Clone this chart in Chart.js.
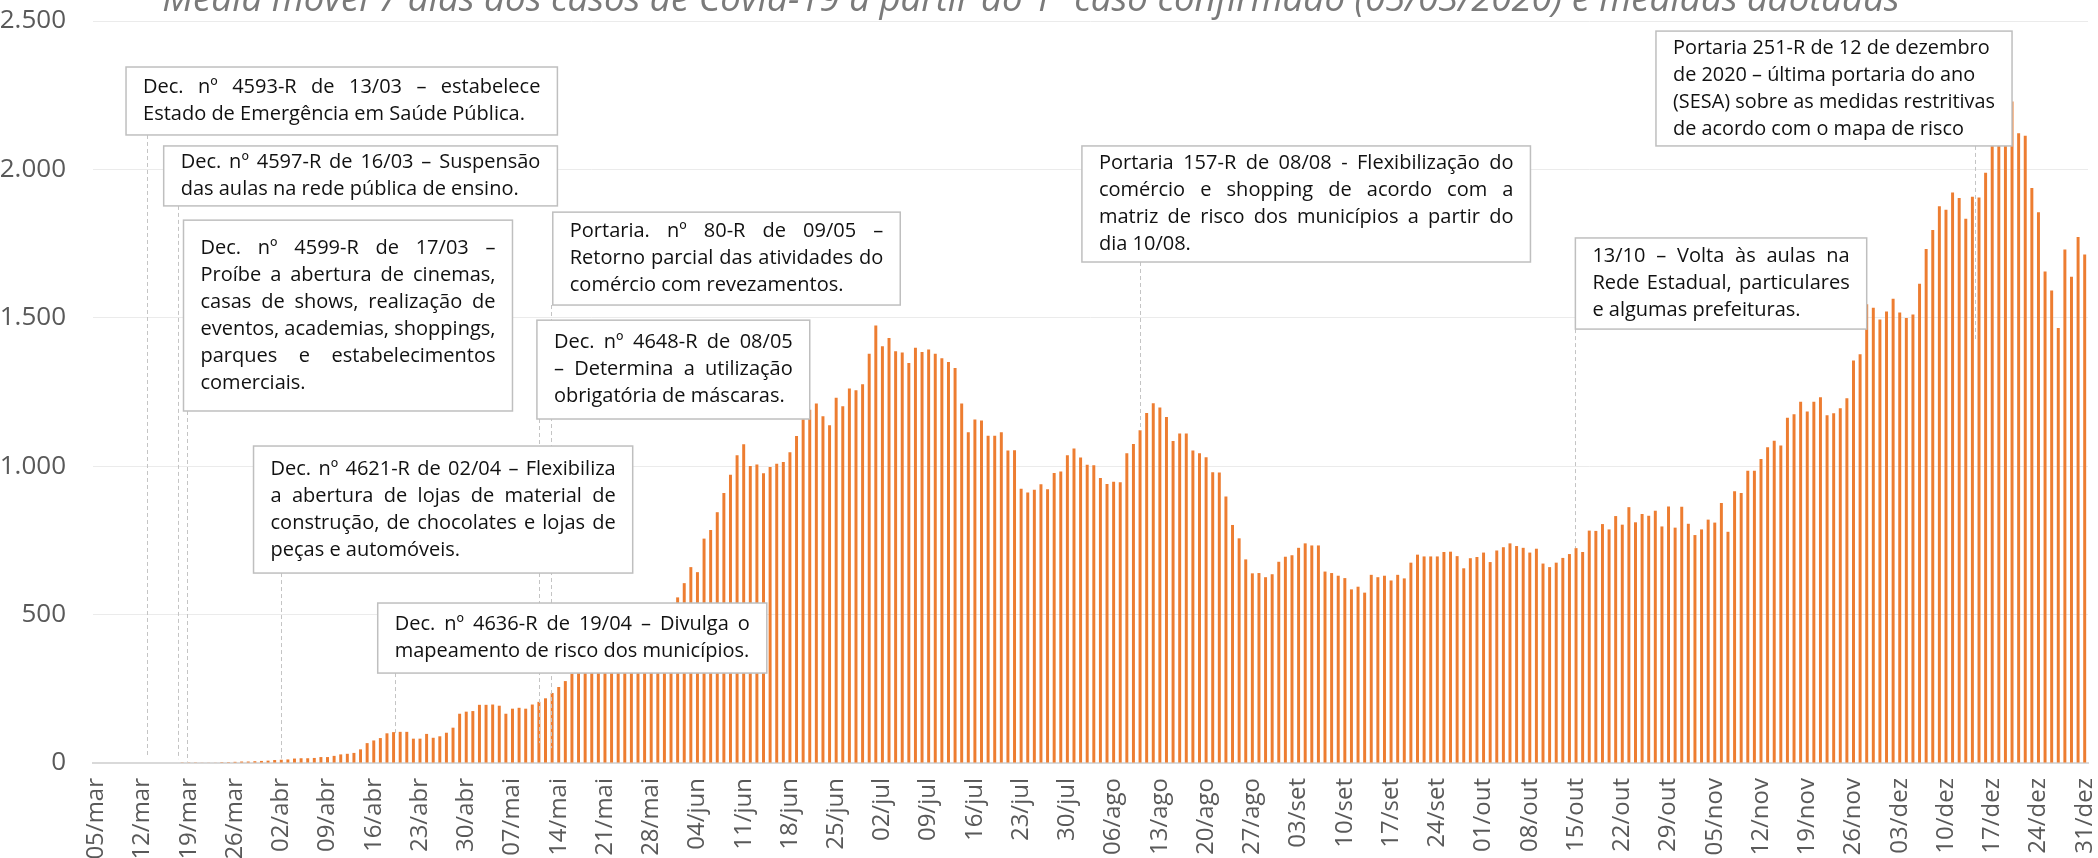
<!DOCTYPE html>
<html lang="pt-BR">
<head>
<meta charset="utf-8">
<title>Média móvel 7 dias - Covid-19</title>
<script src="https://cdn.jsdelivr.net/npm/chart.js@4.4.1/dist/chart.umd.min.js"></script>
<style>
  html, body { margin: 0; padding: 0; background: #fff; }
  #wrap { width: 2098px; height: 858px; }
</style>
</head>
<body>
<div id="wrap"><canvas id="chart" width="2098" height="858"></canvas></div>
<script>
'use strict';

// ---- dados (média móvel 7 dias) ----
const TITLE = 'Média móvel 7 dias dos casos de Covid-19 a partir do 1º caso confirmado (05/03/2020) e medidas adotadas';

const MONTHS = ['mar', 'abr', 'mai', 'jun', 'jul', 'ago', 'set', 'out', 'nov', 'dez'];
const MONTH_DAYS = [31, 30, 31, 30, 31, 31, 30, 31, 30, 31];
const FIRST_DAY = 5;
const TICK_STEP = 7;
const Y_TICKS = [0, 500, 1000, 1500, 2000, 2500];

const casesMar = [0, 0, 0, 0, 0, 0, 0, 0, 0, 0, 0, 0, 0, 1, 1, 1, 2, 2, 2, 3, 3, 4, 5, 5, 6, 7, 8];
const casesAbr = [10, 11, 12, 15, 16, 16, 17, 20, 20, 24, 29, 31, 34, 46, 67, 76, 84, 100, 104, 105,
  105, 82, 82, 98, 85, 90, 102, 119, 166, 173];
const casesMai = [175, 196, 196, 197, 193, 166, 183, 186, 183, 197, 206, 218, 236, 256, 276, 301,
  316, 334, 341, 356, 372, 378, 395, 410, 414, 432, 451, 466, 490, 508, 533];
const casesJun = [558, 606, 660, 643, 756, 785, 845, 910, 971, 1037, 1074, 1001, 1006, 976, 997,
  1008, 1014, 1047, 1102, 1158, 1190, 1211, 1168, 1138, 1231, 1202, 1262, 1256, 1276, 1379];
const casesJul = [1474, 1404, 1432, 1387, 1383, 1348, 1399, 1385, 1393, 1379, 1364, 1351, 1331, 1211,
  1114, 1157, 1154, 1103, 1103, 1114, 1053, 1054, 924, 911, 921, 939, 922, 977, 982, 1037, 1060];
const casesAgo = [1029, 1005, 1003, 960, 940, 948, 946, 1044, 1075, 1121, 1179, 1212, 1198, 1166,
  1085, 1110, 1110, 1053, 1044, 1030, 980, 979, 898, 802, 757, 686, 639, 640, 626, 636, 678];
const casesSet = [695, 700, 725, 740, 733, 733, 645, 640, 631, 623, 585, 594, 574, 634, 626, 631,
  615, 634, 622, 675, 702, 696, 696, 696, 711, 712, 697, 656, 690, 694];
const casesOut = [709, 677, 716, 727, 740, 731, 725, 709, 722, 672, 660, 675, 691, 704, 724, 711,
  783, 782, 805, 787, 832, 803, 862, 811, 839, 833, 850, 797, 864, 793, 863];
const casesNov = [806, 768, 787, 820, 810, 876, 779, 916, 910, 985, 985, 1024, 1064, 1086, 1070,
  1163, 1175, 1217, 1184, 1217, 1232, 1172, 1178, 1195, 1229, 1356, 1377, 1546, 1534, 1494];
const casesDez = [1521, 1564, 1518, 1499, 1511, 1615, 1732, 1796, 1876, 1864, 1922, 1904, 1834, 1908,
  1905, 1989, 2090, 2120, 2140, 2229, 2122, 2113, 1937, 1856, 1656, 1592, 1466, 1730, 1638, 1772, 1713];

const cases = [].concat(casesMar, casesAbr, casesMai, casesJun, casesJul,
  casesAgo, casesSet, casesOut, casesNov, casesDez);

// rótulos dd/mmm
const days = [];
MONTHS.forEach((m, k) => {
  for (let d = (k === 0 ? FIRST_DAY : 1); d <= MONTH_DAYS[k]; d++) {
    days.push(String(d).padStart(2, '0') + '/' + m);
  }
});

// ---- caixas de texto (posição em dia / valor do eixo) ----
const notes = [
  { x0: 4.5, x1: 69.8, top: 2345, bottom: 2116, justify: true,
    lines: ['Dec. nº 4593-R de 13/03 – estabelece', 'Estado de Emergência em Saúde Pública.'] },
  { x0: 10.2, x1: 69.8, top: 2079, bottom: 1877, justify: true,
    lines: ['Dec. nº 4597-R de 16/03 – Suspensão', 'das aulas na rede pública de ensino.'] },
  { x0: 13.2, x1: 63.0, top: 1829, bottom: 1186, justify: true,
    lines: ['Dec. nº 4599-R de 17/03 –', 'Proíbe a abertura de cinemas,', 'casas de shows, realização de',
      'eventos, academias, shoppings,', 'parques e estabelecimentos', 'comerciais.'] },
  { x0: 23.8, x1: 81.2, top: 1068, bottom: 640, justify: true,
    lines: ['Dec. nº 4621-R de 02/04 – Flexibiliza', 'a abertura de lojas de material de',
      'construção, de chocolates e lojas de', 'peças e automóveis.'] },
  { x0: 42.6, x1: 101.5, top: 539, bottom: 303, justify: true,
    lines: ['Dec. nº 4636-R de 19/04 – Divulga o', 'mapeamento de risco dos municípios.'] },
  { x0: 69.1, x1: 121.7, top: 1856, bottom: 1543, justify: true,
    lines: ['Portaria. nº 80-R de 09/05 –', 'Retorno parcial das atividades do', 'comércio com revezamentos.'] },
  { x0: 66.7, x1: 108.0, top: 1492, bottom: 1159, justify: true,
    lines: ['Dec. nº 4648-R de 08/05', '– Determina a utilização', 'obrigatória de máscaras.'] },
  { x0: 149.2, x1: 217.1, top: 2079, bottom: 1688, justify: true,
    lines: ['Portaria 157-R de 08/08 - Flexibilização do', 'comércio e shopping de acordo com a',
      'matriz de risco dos municípios a partir do', 'dia 10/08.'] },
  { x0: 223.9, x1: 268.0, top: 1769, bottom: 1462, justify: true,
    lines: ['13/10 – Volta às aulas na', 'Rede Estadual, particulares', 'e algumas prefeituras.'] },
  { x0: 236.1, x1: 290.0, top: 2466, bottom: 2079, justify: false,
    lines: ['Portaria 251-R de 12 de dezembro', 'de 2020 – última portaria do ano',
      '(SESA) sobre as medidas restritivas', 'de acordo com o mapa de risco'] }
];

// linhas tracejadas de ligação
const leaders = [
  { x: 7.7, from: 2116, to: 24 },
  { x: 12.3, from: 1877, to: 13 },
  { x: 13.8, from: 1186, to: 5 },
  { x: 28.0, from: 640, to: 15 },
  { x: 45.2, from: 303, to: 100 },
  { x: 67.0, from: 1159, to: 67 },
  { x: 68.9, from: 1543, to: 50 },
  { x: 158.0, from: 1688, to: 1121 },
  { x: 223.9, from: 1462, to: 724 },
  { x: 284.4, from: 2079, to: 1420 }
];

const FONT = "'Open Sans', 'Noto Sans', sans-serif";
const AXIS_GRAY = '#595959';

function fmtThousands(v) {
  return String(v).replace(/\B(?=(\d{3})+(?!\d))/g, '.');
}

function drawParagraph(ctx, lines, left, right, cy, lineH, justify) {
  const avail = right - left;
  let maxW = 0;
  lines.forEach((l) => { maxW = Math.max(maxW, ctx.measureText(l).width); });
  const sx = Math.min(1, avail / maxW);
  const w = avail / sx;
  ctx.save();
  ctx.translate(left, 0);
  ctx.scale(sx, 1);
  lines.forEach((line, k) => {
    const y = cy - (lines.length - 1) * lineH / 2 + k * lineH;
    const words = line.split(' ');
    if (justify && k < lines.length - 1 && words.length > 1) {
      const wordsW = words.reduce((s, t) => s + ctx.measureText(t).width, 0);
      const gap = (w - wordsW) / (words.length - 1);
      let x = 0;
      words.forEach((t) => {
        ctx.fillText(t, x, y);
        x += ctx.measureText(t).width + gap;
      });
    } else {
      ctx.fillText(line, 0, y);
    }
  });
  ctx.restore();
}

const NotesPlugin = {
  id: 'notes',
  afterDatasetsDraw(chart) {
    const { ctx, scales } = chart;
    const xs = scales.x, ys = scales.y;

    // leaders
    ctx.save();
    ctx.strokeStyle = '#c4c4c4';
    ctx.lineWidth = 1;
    ctx.setLineDash([4, 3]);
    leaders.forEach((l) => {
      const x = Math.round(xs.getPixelForValue(l.x)) + 0.5;
      ctx.beginPath();
      ctx.moveTo(x, ys.getPixelForValue(l.from));
      ctx.lineTo(x, ys.getPixelForValue(l.to));
      ctx.stroke();
    });
    ctx.restore();

    // boxes
    ctx.save();
    ctx.font = `20px ${FONT}`;
    ctx.textBaseline = 'middle';
    ctx.textAlign = 'left';
    notes.forEach((n) => {
      const l = xs.getPixelForValue(n.x0), r = xs.getPixelForValue(n.x1);
      const t = ys.getPixelForValue(n.top), b = ys.getPixelForValue(n.bottom);
      ctx.fillStyle = '#ffffff';
      ctx.fillRect(l, t, r - l, b - t);
      ctx.strokeStyle = '#bfbfbf';
      ctx.lineWidth = 1.5;
      ctx.setLineDash([]);
      ctx.strokeRect(l, t, r - l, b - t);
      ctx.fillStyle = '#111111';
      drawParagraph(ctx, n.lines, l + 17, r - 17, (t + b) / 2, 27, n.justify);
    });
    ctx.restore();
  },
  afterDraw(chart) {
    const { ctx } = chart;
    ctx.save();
    ctx.fillStyle = '#7a7a7a';
    ctx.textAlign = 'center';
    ctx.textBaseline = 'alphabetic';
    ctx.font = `italic 30px ${FONT}`;
    const w = ctx.measureText(TITLE).width;
    const size = 30 * 1737 / w;
    ctx.font = `italic ${size.toFixed(1)}px ${FONT}`;
    ctx.fillText(TITLE, 1031, 11);
    ctx.restore();
  }
};

const ctx = document.getElementById('chart').getContext('2d');
new Chart(ctx, {
  type: 'bar',
  data: {
    labels: days,
    datasets: [{
      data: cases,
      backgroundColor: '#ed7d31',
      borderWidth: 0,
      barPercentage: 0.45,
      categoryPercentage: 1.0
    }]
  },
  options: {
    responsive: false,
    animation: false,
    devicePixelRatio: 1,
    layout: { padding: { top: 21, right: 10, left: 0, bottom: 0 } },
    plugins: {
      legend: { display: false },
      tooltip: { enabled: false },
      title: { display: false }
    },
    scales: {
      x: {
        grid: { display: false, drawTicks: false },
        border: { display: true, color: '#d9d9d9', width: 2 },
        ticks: {
          autoSkip: false,
          minRotation: 90,
          maxRotation: 90,
          padding: 15,
          color: AXIS_GRAY,
          font: { family: FONT, size: 24 },
          callback(v, i) { return i % TICK_STEP === 0 ? this.getLabelForValue(v) : ''; }
        },
        afterFit(s) { s.height = 95; s.paddingLeft = 0; s.paddingRight = 0; }
      },
      y: {
        min: Y_TICKS[0],
        max: Y_TICKS[Y_TICKS.length - 1],
        afterBuildTicks(s) { s.ticks = Y_TICKS.map((v) => ({ value: v })); },
        grid: { color: '#ebebeb', drawTicks: false },
        border: { display: false },
        ticks: {
          padding: 27,
          color: AXIS_GRAY,
          font: { family: FONT, size: 26 },
          callback: (v) => fmtThousands(v)
        },
        afterFit(s) { s.width = 93; s.paddingTop = 0; s.paddingBottom = 0; }
      }
    }
  },
  plugins: [NotesPlugin]
});
</script>
</body>
</html>
